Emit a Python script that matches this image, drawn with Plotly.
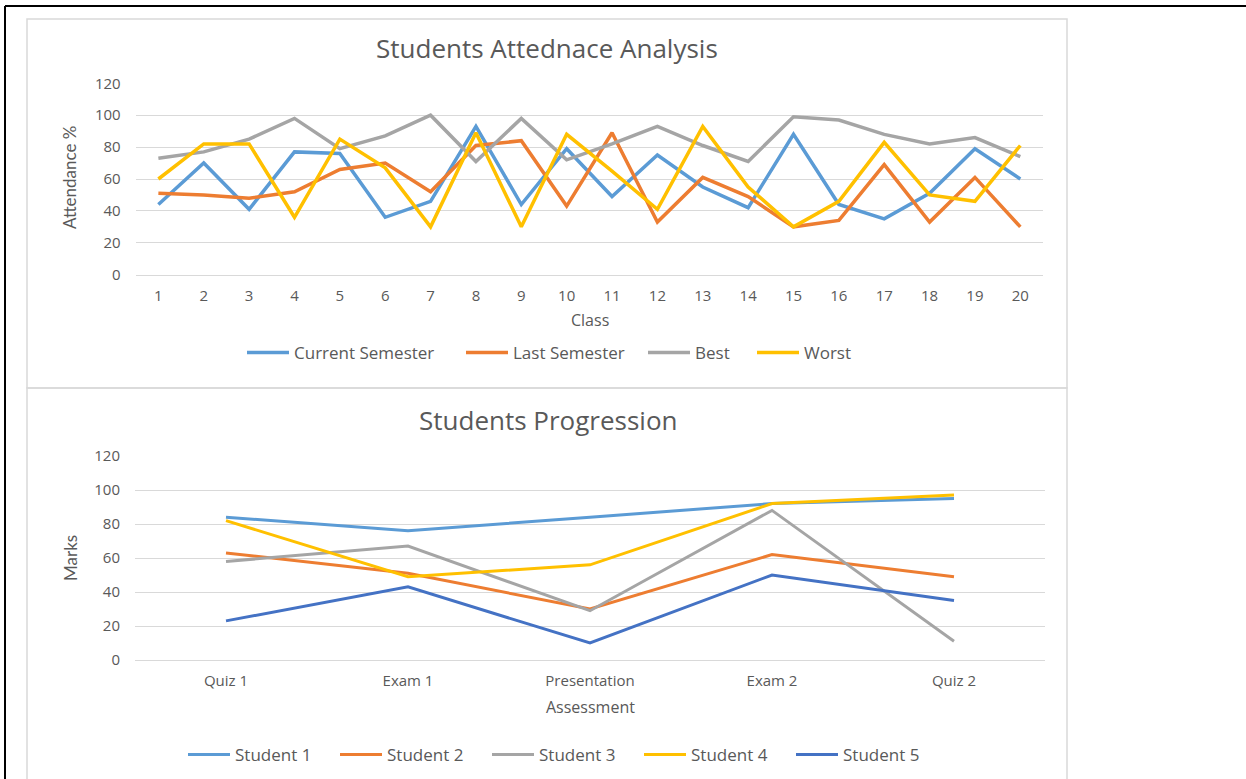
import plotly.graph_objects as go

# ---------------- data ----------------
classes = [str(i) for i in range(1, 21)]
current_semester = [44, 70, 41, 77, 76, 36, 46, 93, 44, 79, 49, 75, 55, 42, 88, 44, 35, 51, 79, 60]
last_semester = [51, 50, 48, 52, 66, 70, 52, 81, 84, 43, 89, 33, 61, 49, 30, 34, 69, 33, 61, 30]
best = [73, 77, 85, 98, 79, 87, 100, 71, 98, 72, 82, 93, 81, 71, 99, 97, 88, 82, 86, 74]
worst = [60, 82, 82, 36, 85, 67, 30, 89, 30, 88, 65, 41, 93, 55, 30, 46, 83, 50, 46, 81]

assessments = ["Quiz 1", "Exam 1", "Presentation", "Exam 2", "Quiz 2"]
student1 = [84, 76, 84, 92, 95]
student2 = [63, 51, 30, 62, 49]
student3 = [58, 67, 29, 88, 11]
student4 = [82, 49, 56, 92, 97]
student5 = [23, 43, 10, 50, 35]

y_ticks = [0, 20, 40, 60, 80, 100, 120]

# ---------------- styling ----------------
W, H = 1246, 779
BLUE, ORANGE, GRAY, YELLOW, DBLUE = "#5B9BD5", "#ED7D31", "#A5A5A5", "#FFC000", "#4472C4"
TXT = "#595959"
GRID = "#D9D9D9"
FONT = "Open Sans"

# legend item placement (left edge of each legend line, px) and row heights
top_legend_x = [247, 466, 648, 757]
top_legend_y = 353
bot_legend_x = [188, 340, 492, 644, 796]
bot_legend_y = 755
LEG_OFFSET = 5  # plotly draws the symbol 5px inside the legend box


def px(x):
    return x / W


def py(y):
    return 1 - y / H


fig = go.Figure()
layout_legends = {}

top_series = [("Current Semester", current_semester, BLUE),
              ("Last Semester", last_semester, ORANGE),
              ("Best", best, GRAY),
              ("Worst", worst, YELLOW)]
bot_series = [("Student 1", student1, BLUE),
              ("Student 2", student2, ORANGE),
              ("Student 3", student3, GRAY),
              ("Student 4", student4, YELLOW),
              ("Student 5", student5, DBLUE)]

leg_idx = 0


def legend_name(i):
    return "legend" if i == 0 else f"legend{i + 1}"


for (name, vals, col), lx in zip(top_series, top_legend_x):
    ln = legend_name(leg_idx)
    leg_idx += 1
    fig.add_trace(go.Scatter(x=classes, y=vals, name=name, mode="lines",
                             line=dict(color=col, width=3.5), xaxis="x", yaxis="y",
                             legend=ln))
    layout_legends[ln] = dict(orientation="h", x=px(lx - LEG_OFFSET), y=py(top_legend_y),
                              xanchor="left", yanchor="middle", itemwidth=42,
                              font=dict(family=FONT, size=17, color=TXT),
                              bgcolor="rgba(0,0,0,0)", borderwidth=0)

for (name, vals, col), lx in zip(bot_series, bot_legend_x):
    ln = legend_name(leg_idx)
    leg_idx += 1
    fig.add_trace(go.Scatter(x=assessments, y=vals, name=name, mode="lines",
                             line=dict(color=col, width=3), xaxis="x2", yaxis="y2",
                             legend=ln))
    layout_legends[ln] = dict(orientation="h", x=px(lx - LEG_OFFSET), y=py(bot_legend_y),
                              xanchor="left", yanchor="middle", itemwidth=42,
                              font=dict(family=FONT, size=17, color=TXT),
                              bgcolor="rgba(0,0,0,0)", borderwidth=0)

tickfont = dict(family=FONT, size=15, color=TXT)
common_x = dict(type="category", showgrid=False, showline=True, linecolor=GRID,
                linewidth=1, ticks="", tickfont=tickfont, zeroline=False,
                ticklabelstandoff=7, fixedrange=True, automargin=False)
common_y = dict(range=[0, 120], tickvals=y_ticks, showgrid=True, gridcolor=GRID,
                gridwidth=1, showline=False, zeroline=False, ticks="",
                tickfont=tickfont, ticklabelstandoff=14, fixedrange=True,
                automargin=False)

fig.update_layout(
    width=W, height=H, autosize=False,
    margin=dict(l=0, r=0, t=0, b=0, pad=0, autoexpand=False),
    paper_bgcolor="white", plot_bgcolor="white",
    font=dict(family=FONT, color=TXT),
    xaxis=dict(common_x, domain=[px(135.7), px(1043)], anchor="y",
               range=[-0.5, len(classes) - 0.5]),
    yaxis=dict(common_y, domain=[py(274.7), py(83.3)], anchor="x"),
    xaxis2=dict(common_x, domain=[px(135), px(1045)], anchor="y2",
                range=[-0.5, len(assessments) - 0.5]),
    yaxis2=dict(common_y, domain=[py(660), py(456)], anchor="x2"),
    showlegend=True,
    **layout_legends,
)

annotations = [
    dict(text="Students Attednace Analysis", x=px(547), y=py(48), font=dict(size=26)),
    dict(text="Students Progression", x=px(548), y=py(420), font=dict(size=26)),
    dict(text="Class", x=px(590), y=py(320), font=dict(size=16)),
    dict(text="Assessment", x=px(590), y=py(707), font=dict(size=16)),
    dict(text="Attendance %", x=px(70), y=py(178), textangle=-90,
         font=dict(size=17, family="Lato")),
    dict(text="Marks", x=px(70), y=py(558), textangle=-90,
         font=dict(size=17, family="Lato")),
]
for a in annotations:
    a.update(xref="paper", yref="paper", showarrow=False, xanchor="center", yanchor="middle")
    a["font"] = dict(dict(family=FONT, color=TXT), **a["font"])
fig.update_layout(annotations=annotations)

shapes = [
    # chart panels
    dict(type="rect", x0=px(27), x1=px(1067), y0=py(388), y1=py(19),
         line=dict(color=GRID, width=1.5)),
    dict(type="rect", x0=px(27), x1=px(1067), y0=py(790), y1=py(388),
         line=dict(color=GRID, width=1.5)),
    # outer black frame
    dict(type="line", x0=px(5), x1=px(1250), y0=py(6), y1=py(6),
         line=dict(color="black", width=2)),
    dict(type="line", x0=px(5), x1=px(5), y0=py(6), y1=py(790),
         line=dict(color="black", width=2)),
]
for s in shapes:
    s.update(xref="paper", yref="paper", layer="below")
fig.update_layout(shapes=shapes)

fig.write_html("out.html",
               config={"displayModeBar": False, "staticPlot": False},
               post_script="document.body.style.margin='0';document.body.style.overflow='hidden';")
